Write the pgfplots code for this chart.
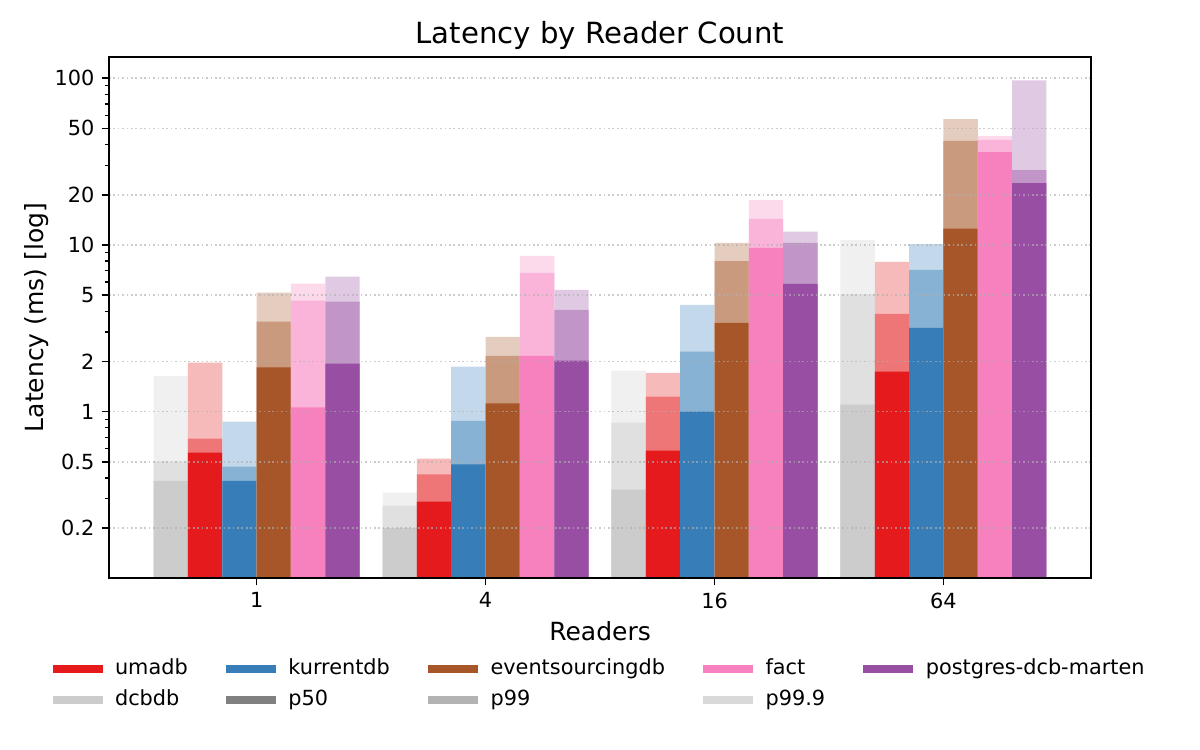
\documentclass[border=0pt]{standalone}
\usepackage{fontspec}
\setmainfont{DejaVu Sans}
\usepackage{pgfplots}
\usepackage{pgfplotstable}
\pgfplotsset{compat=1.18}

\definecolor{cuma}{HTML}{E41A1C}
\definecolor{ckur}{HTML}{377EB8}
\definecolor{cevt}{HTML}{A65628}
\definecolor{cfac}{HTML}{F781BF}
\definecolor{cpgm}{HTML}{984EA3}
\definecolor{cdcb}{HTML}{CCCCCC}
\definecolor{cp50}{HTML}{808080}
\definecolor{cp99}{HTML}{B3B3B3}
\definecolor{cp999}{HTML}{D9D9D9}
\definecolor{cgrid}{HTML}{B0B0B0}

% x = group index (0:1 reader, 1:4, 2:16, 3:64)
\pgfplotstableread{
x p50 p99 p999
0 0.385 0.503 1.64
1 0.200 0.273 0.327
2 0.341 0.86 1.76
3 1.10 5.07 10.7
}\tdcbdb
\pgfplotstableread{
x p50 p99 p999
0 0.567 0.69 1.97
1 0.289 0.42 0.523
2 0.583 1.23 1.71
3 1.74 3.86 7.9
}\tumadb
\pgfplotstableread{
x p50 p99 p999
0 0.385 0.468 0.87
1 0.482 0.88 1.86
2 1.00 2.29 4.37
3 3.18 7.08 10.1
}\tkurrent
\pgfplotstableread{
x p50 p99 p999
0 1.84 3.47 5.17
1 1.12 2.16 2.81
2 3.41 8.0 10.3
3 12.5 42.0 56.8
}\tevent
\pgfplotstableread{
x p50 p99 p999
0 1.06 4.63 5.86
1 2.16 6.8 8.6
2 9.6 14.3 18.6
3 36.0 42.6 45.0
}\tfact
\pgfplotstableread{
x p50 p99 p999
0 1.94 4.57 6.46
1 2.02 4.08 5.38
2 5.84 10.3 12.0
3 23.5 28.1 97.0
}\tpgm

\newcommand{\series}[3]{%
\addplot[ybar, bar width=0.15, bar shift=#3, fill=#2!30!white, draw=none, forget plot] table[x=x,y=p999]{#1};
\addplot[ybar, bar width=0.15, bar shift=#3, fill=#2!60!white, draw=none, forget plot] table[x=x,y=p99]{#1};
\addplot[ybar, bar width=0.15, bar shift=#3, fill=#2, draw=none, forget plot] table[x=x,y=p50]{#1};
}

\begin{document}
\begin{tikzpicture}
\useasboundingbox (-52.32bp,-82.56bp) rectangle (523.68bp,277.44bp);
\begin{axis}[
  at={(0,0)}, anchor=south west,
  scale only axis,
  width=471.4bp, height=250.1bp,
  ymode=log,
  log origin y=infty,
  xmin=-0.645, xmax=3.645,
  ymin=0.1005, ymax=134,
  xtick={0,1,2,3},
  xticklabels={1,4,16,64},
  ytick={0.2,0.5,1,2,5,10,20,50,100},
  yticklabels={0.2,0.5,1,2,5,10,20,50,100},
  minor ytick={0.3,0.4,0.6,0.7,0.8,0.9,3,4,6,7,8,9,30,40,60,70,80,90},
  /pgf/number format/assume math mode=true,
  tick align=outside,
  tick pos=left,
  major tick length=3.5bp,
  minor tick length=2bp,
  every major tick/.append style={line width=0.8bp, black},
  every minor tick/.append style={line width=0.6bp, black},
  axis line style={line width=0.8bp, black},
  ymajorgrids=true,
  major grid style={line width=0.8bp, cgrid, draw opacity=0.65, dash pattern=on 0.8bp off 1.32bp},
  axis on top,
  ticklabel style={font=\fontsize{10bp}{12bp}\selectfont},
  title={Latency by Reader Count},
  every axis title shift=0pt,
  title style={font=\fontsize{14bp}{17bp}\selectfont, at={(0.5,1.025)}, anchor=base, inner sep=0pt},
  xlabel={Readers},
  xlabel style={font=\fontsize{12bp}{14bp}\selectfont, at={(0.5,-0.1208)}, anchor=base, inner sep=0pt},
  ylabel={Latency (ms) [log]},
  ylabel style={font=\fontsize{12bp}{14bp}\selectfont, at={(-0.0669,0.5)}, anchor=base, inner sep=0pt},
  legend image code/.code={\fill[#1] (0bp,-1.85bp) rectangle (24bp,1.85bp);},
  legend columns=5,
  legend cell align=left,
  legend style={
    at={(-0.0575,-0.1555)}, anchor=north west,
    draw=none, fill=none, inner sep=0pt, outer sep=0pt,
    font=\fontsize{10bp}{12bp}\selectfont,
    row sep=5.5bp,
    nodes={inner xsep=0pt, inner ysep=0pt, text height=7.4bp, text depth=2bp},
    /tikz/every odd column/.append style={column sep=6bp},
    /tikz/every even column/.append style={column sep=18.3bp},
  },
]
\series{\tdcbdb}{cdcb}{-0.375}
\series{\tumadb}{cuma}{-0.225}
\series{\tkurrent}{ckur}{-0.075}
\series{\tevent}{cevt}{0.075}
\series{\tfact}{cfac}{0.225}
\series{\tpgm}{cpgm}{0.375}

\addlegendimage{fill=cuma, draw=none}
\addlegendentry{umadb}
\addlegendimage{fill=ckur, draw=none}
\addlegendentry{kurrentdb}
\addlegendimage{fill=cevt, draw=none}
\addlegendentry{eventsourcingdb}
\addlegendimage{fill=cfac, draw=none}
\addlegendentry{fact}
\addlegendimage{fill=cpgm, draw=none}
\addlegendentry{postgres-dcb-marten}
\addlegendimage{fill=cdcb, draw=none}
\addlegendentry{dcbdb}
\addlegendimage{fill=cp50, draw=none}
\addlegendentry{p50}
\addlegendimage{fill=cp99, draw=none}
\addlegendentry{p99}
\addlegendimage{fill=cp999, draw=none}
\addlegendentry{p99.9}
\end{axis}
\end{tikzpicture}
\end{document}
